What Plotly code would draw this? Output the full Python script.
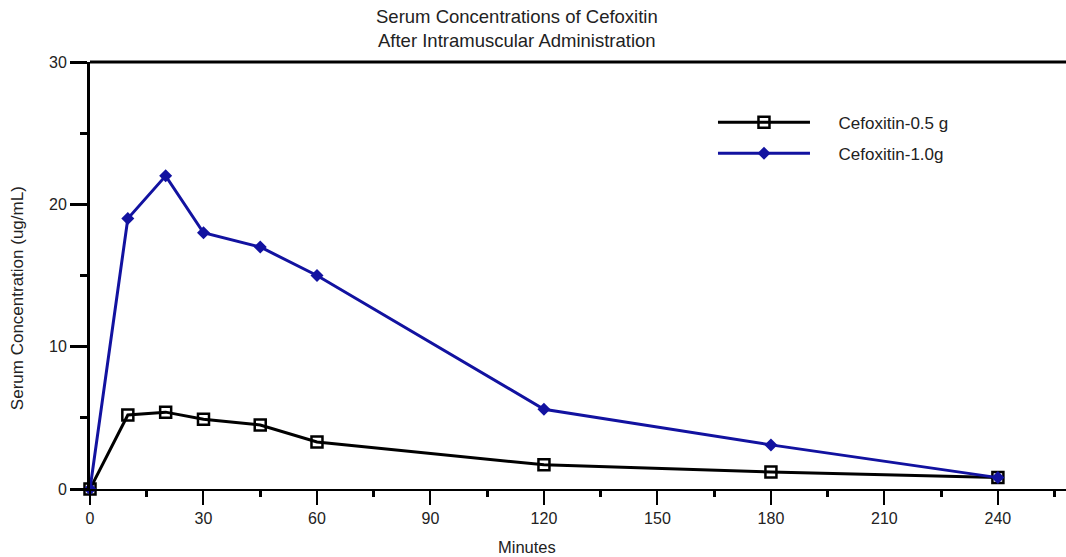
import plotly.graph_objects as go

# ---- data ----
minutes = [0, 10, 20, 30, 45, 60, 120, 180, 240]
cefoxitin_05g = [0, 5.2, 5.4, 4.9, 4.5, 3.3, 1.7, 1.2, 0.8]
cefoxitin_10g = [0, 19.0, 22.0, 18.0, 17.0, 15.0, 5.6, 3.1, 0.8]

x_major = [0, 30, 60, 90, 120, 150, 180, 210, 240]
x_minor = [15, 45, 75, 105, 135, 165, 195, 225, 255]
y_major = [0, 10, 20, 30]
y_minor = [5, 15, 25]

series_names = ["Cefoxitin-0.5 g", "Cefoxitin-1.0g"]

FONT = "Liberation Sans, Arial, sans-serif"
TXT = "#222222"
BLUE = "#1212a0"
PAD = "\u00a0" * 5

fig = go.Figure()
fig.add_trace(go.Scatter(
    x=minutes, y=cefoxitin_05g, mode="lines+markers", name=PAD + series_names[0],
    line=dict(color="black", width=3),
    marker=dict(symbol="square-open", size=11, color="black", line=dict(width=2.5, color="black")),
    cliponaxis=False, legendgroup="a",
))
fig.add_trace(go.Scatter(
    x=minutes, y=cefoxitin_10g, mode="lines+markers", name=PAD + series_names[1],
    line=dict(color=BLUE, width=3),
    marker=dict(symbol="diamond", size=10, color=BLUE),
    cliponaxis=False, legendgroup="b",
))

XR = [0, 258]
YR = [0, 30]

fig.update_layout(
    width=1066, height=557,
    margin=dict(l=90, r=0, t=62, b=68),
    paper_bgcolor="white", plot_bgcolor="white",
    font=dict(family=FONT, size=16, color=TXT),
    showlegend=True,
    legend=dict(
        x=0.6383, y=0.90, xanchor="left", yanchor="top",
        bgcolor="rgba(0,0,0,0)", itemwidth=92, tracegroupgap=6,
        font=dict(family=FONT, size=17, color=TXT),
    ),
    xaxis=dict(
        range=XR, showgrid=False, zeroline=False,
        showline=True, linecolor="black", linewidth=2,
        tickmode="array", tickvals=x_major, ticktext=[str(v) for v in x_major],
        ticks="outside", ticklen=14, tickwidth=2, tickcolor="black",
        minor=dict(tickmode="array", tickvals=x_minor, ticks="outside", ticklen=6, tickwidth=3, tickcolor="black", showgrid=False),
        tickfont=dict(family=FONT, size=16, color=TXT),
    ),
    xaxis2=dict(
        range=XR, overlaying="x", anchor="y", side="bottom",
        showgrid=False, zeroline=False, showline=False, showticklabels=False,
        tickmode="array", tickvals=x_major,
        ticks="inside", ticklen=9, tickwidth=2, tickcolor="black",
        minor=dict(tickmode="array", tickvals=x_minor, ticks="inside", ticklen=6, tickwidth=3, tickcolor="black", showgrid=False),
    ),
    yaxis=dict(
        range=YR, showgrid=False, zeroline=False,
        showline=True, linecolor="black", linewidth=3,
        tickmode="array", tickvals=y_major, ticktext=[str(v) for v in y_major],
        ticks="outside", ticklen=17, tickwidth=2.5, tickcolor="black",
        minor=dict(tickmode="array", tickvals=y_minor, ticks="outside", ticklen=7, tickwidth=2.5, tickcolor="black", showgrid=False),
        tickfont=dict(family=FONT, size=16, color=TXT),
    ),
    yaxis2=dict(
        range=YR, overlaying="y", anchor="x", side="left",
        showgrid=False, zeroline=False, showline=False, showticklabels=False,
        tickmode="array", tickvals=y_major,
        ticks="inside", ticklen=10, tickwidth=2.5, tickcolor="black",
        minor=dict(tickmode="array", tickvals=y_minor, ticks="inside", ticklen=6, tickwidth=2.5, tickcolor="black", showgrid=False),
    ),
    shapes=[dict(type="line", xref="paper", yref="paper", x0=0, x1=1, y0=1, y1=1,
                 line=dict(color="black", width=3))],
    annotations=[
        dict(text="Serum Concentrations of Cefoxitin", xref="paper", yref="paper",
             x=0.4375, y=1.1077, xanchor="center", yanchor="middle", showarrow=False,
             font=dict(family=FONT, size=18.5, color=TXT)),
        dict(text="After Intramuscular Administration", xref="paper", yref="paper",
             x=0.4375, y=1.0515, xanchor="center", yanchor="middle", showarrow=False,
             font=dict(family=FONT, size=18.5, color=TXT)),
        dict(text="Minutes", xref="paper", yref="paper",
             x=0.4477, y=-0.1358, xanchor="center", yanchor="middle", showarrow=False,
             font=dict(family=FONT, size=16.5, color=TXT)),
        dict(text="Serum Concentration (ug/mL)", xref="paper", yref="paper",
             x=-0.0748, y=0.447, xanchor="center", yanchor="middle", showarrow=False,
             textangle=-90, font=dict(family=FONT, size=17, color=TXT)),
    ],
)

fig.write_html("out.html")
